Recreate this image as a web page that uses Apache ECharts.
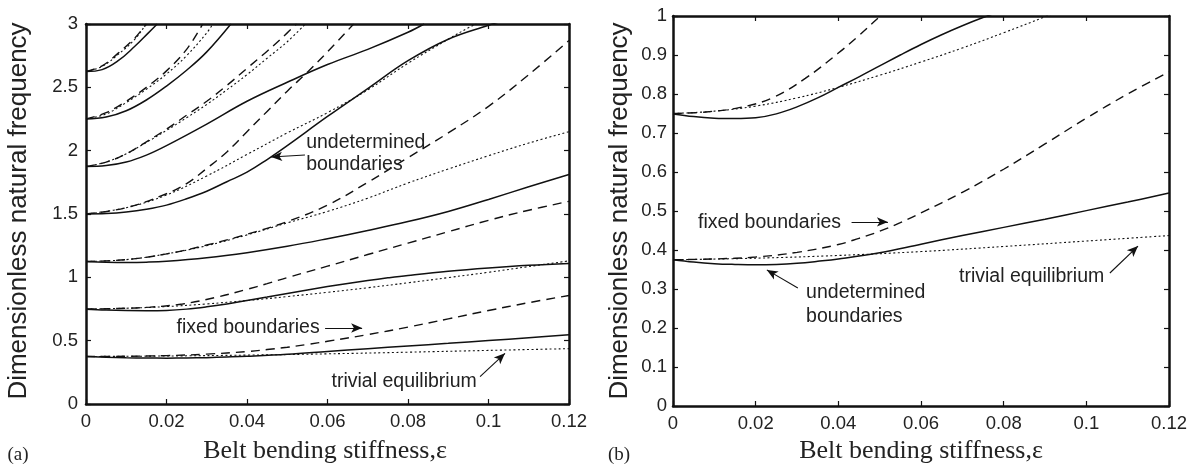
<!DOCTYPE html>
<html><head><meta charset="utf-8">
<script src="https://cdn.jsdelivr.net/npm/echarts@6/dist/echarts.min.js"></script>
<style>html,body{margin:0;padding:0;background:#fff}#c{width:1197px;height:466px}</style>
</head><body><div id="c"></div>
<script>
// ---- values: [epsilon, frequency] ----
const m1Solid  = [[0,0.375],[0.005,0.369],[0.01,0.365],[0.015,0.363],[0.02,0.362],[0.025,0.363],[0.03,0.366],[0.035,0.371],[0.04,0.377],[0.05,0.393],[0.06,0.415],[0.07,0.437],[0.08,0.458],[0.09,0.479],[0.1,0.501],[0.11,0.523],[0.12,0.546]];
const m1Dashed = [[0,0.375],[0.01,0.377],[0.02,0.382],[0.03,0.394],[0.04,0.414],[0.045,0.43],[0.05,0.448],[0.055,0.47],[0.06,0.495],[0.07,0.548],[0.08,0.607],[0.09,0.672],[0.1,0.738],[0.11,0.8],[0.12,0.857]];
const m1Dotted = [[0,0.375],[0.02,0.379],[0.04,0.386],[0.06,0.396],[0.08,0.409],[0.1,0.423],[0.12,0.437]];

const m2Solid  = [[0,0.749],[0.005,0.742],[0.01,0.738],[0.015,0.737],[0.02,0.739],[0.025,0.749],[0.03,0.767],[0.035,0.79],[0.04,0.817],[0.045,0.844],[0.05,0.872],[0.055,0.9],[0.06,0.927],[0.065,0.952],[0.07,0.975],[0.075,0.996],[0.08,1.015],[0.09,1.048],[0.1,1.074],[0.11,1.095],[0.12,1.11]];
const m2Dashed = [[0,0.75],[0.008,0.754],[0.016,0.765],[0.024,0.79],[0.032,0.84],[0.04,0.905],[0.045,0.95],[0.05,0.998],[0.06,1.088],[0.07,1.18],[0.08,1.27],[0.09,1.36],[0.1,1.45],[0.11,1.53],[0.12,1.6]];
const m2Dotted = [[0,0.75],[0.01,0.756],[0.02,0.769],[0.03,0.79],[0.04,0.817],[0.05,0.848],[0.06,0.882],[0.07,0.918],[0.08,0.957],[0.09,0.998],[0.1,1.04],[0.11,1.085],[0.12,1.13]];

const m3Solid  = [[0,1.125],[0.005,1.12],[0.01,1.118],[0.015,1.12],[0.02,1.127],[0.03,1.155],[0.04,1.195],[0.05,1.245],[0.06,1.305],[0.07,1.37],[0.08,1.44],[0.09,1.52],[0.1,1.615],[0.11,1.715],[0.12,1.812]];
const m3Dashed = [[0,1.125],[0.01,1.14],[0.02,1.185],[0.03,1.255],[0.04,1.34],[0.05,1.44],[0.06,1.57],[0.07,1.75],[0.08,1.945],[0.09,2.14],[0.1,2.35],[0.11,2.6],[0.12,2.87]];
const m3Dotted = [[0,1.125],[0.01,1.14],[0.02,1.185],[0.03,1.25],[0.04,1.335],[0.05,1.43],[0.06,1.52],[0.07,1.625],[0.08,1.745],[0.09,1.855],[0.1,1.96],[0.11,2.06],[0.12,2.15]];

const m4Solid  = [[0,1.5],[0.005,1.503],[0.01,1.515],[0.015,1.537],[0.02,1.57],[0.025,1.62],[0.03,1.68],[0.035,1.755],[0.04,1.83],[0.045,1.93],[0.05,2.04],[0.06,2.27],[0.07,2.49],[0.08,2.71],[0.09,2.88],[0.1,2.99],[0.103,3.02]];
const m4Dashed = [[0,1.5],[0.01,1.55],[0.02,1.66],[0.025,1.74],[0.03,1.86],[0.035,1.99],[0.04,2.15],[0.045,2.31],[0.05,2.47],[0.055,2.62],[0.06,2.78],[0.0665,3.0]];
const m4Dotted = [[0,1.5],[0.01,1.55],[0.02,1.65],[0.03,1.8],[0.04,1.97],[0.05,2.14],[0.06,2.3],[0.07,2.48],[0.08,2.69],[0.09,2.88],[0.095,2.97],[0.097,3.0]];

const m5Solid  = [[0,1.875],[0.005,1.882],[0.01,1.91],[0.015,1.965],[0.02,2.04],[0.03,2.21],[0.04,2.39],[0.05,2.54],[0.06,2.68],[0.07,2.8],[0.08,2.935],[0.084,3.0]];
const m5Dashed = [[0,1.875],[0.005,1.91],[0.01,1.975],[0.015,2.07],[0.02,2.17],[0.025,2.28],[0.03,2.39],[0.035,2.515],[0.04,2.65],[0.045,2.785],[0.05,2.93],[0.0523,3.0]];
const m5Dotted = [[0,1.875],[0.005,1.91],[0.01,1.975],[0.015,2.065],[0.02,2.16],[0.025,2.26],[0.03,2.365],[0.035,2.48],[0.04,2.6],[0.045,2.73],[0.05,2.86],[0.0545,3.0]];

const m6Solid  = [[0,2.25],[0.005,2.265],[0.01,2.315],[0.015,2.4],[0.02,2.51],[0.025,2.635],[0.03,2.78],[0.036,3.0]];
const m6Dashed = [[0,2.25],[0.005,2.3],[0.01,2.39],[0.015,2.5],[0.02,2.63],[0.025,2.8],[0.029,3.0]];
const m6Dotted = [[0,2.25],[0.005,2.29],[0.01,2.38],[0.015,2.485],[0.02,2.605],[0.025,2.75],[0.03,2.93],[0.0315,3.0]];

const m7Solid  = [[0,2.625],[0.004,2.64],[0.008,2.71],[0.012,2.82],[0.0155,2.93],[0.0177,3.0]];
const m7Dashed = [[0,2.625],[0.004,2.67],[0.008,2.77],[0.012,2.885],[0.0145,2.98],[0.015,3.0]];
const m7Dotted = [[0,2.625],[0.004,2.665],[0.008,2.76],[0.012,2.875],[0.0148,2.99],[0.0152,3.0]];

const solidA  = [m1Solid, m2Solid, m3Solid, m4Solid, m5Solid, m6Solid, m7Solid];
const dashedA = [m1Dashed, m2Dashed, m3Dashed, m4Dashed, m5Dashed, m6Dashed, m7Dashed];
const dottedA = [m1Dotted, m2Dotted, m3Dotted, m4Dotted, m5Dotted, m6Dotted, m7Dotted];
const solidB  = [m1Solid, m2Solid];
const dashedB = [m1Dashed, m2Dashed];
const dottedB = [m1Dotted, m2Dotted];

// axis ranges
const xRange = {min:0, max:0.12, interval:0.02};
const yRangeA = {min:0, max:3, interval:0.5};
const yRangeB = {min:0, max:1, interval:0.1};

// annotations (data coordinates)
const notesA = [
  {t:'undetermined', p:[0.0547, 2.064]}, {t:'boundaries', p:[0.0547, 1.887]},
  {t:'fixed boundaries', p:[0.0225, 0.60]}, {t:'trivial equilibrium', p:[0.061, 0.174]}
];
const arrowsA = [[[0.0544,1.966],[0.046,1.95]], [[0.0594,0.60],[0.0686,0.60]], [[0.0979,0.216],[0.1041,0.40]]];
const notesB = [
  {t:'fixed boundaries', p:[0.00605, 0.47]},
  {t:'undetermined', p:[0.0322, 0.29]}, {t:'boundaries', p:[0.0322, 0.229]},
  {t:'trivial equilibrium', p:[0.0692, 0.333]}
];
const arrowsB = [[[0.0432,0.472],[0.052,0.472]], [[0.0302,0.3026],[0.0227,0.349]], [[0.1057,0.341],[0.1125,0.41]]];

// ---- chart ----
const INK = '#111';
const TXT = '#222';
const SANS = '"Liberation Sans", Arial, sans-serif';
const SERIF = '"Liberation Serif", "Times New Roman", serif';

const chart = echarts.init(document.getElementById('c'), null, {renderer:'canvas'});

function axis(grid, pos, range, labels, margin) {
  return Object.assign({
    type:'value', gridIndex:grid, position:pos,
    axisLine:{show:true, onZero:false, lineStyle:{color:INK, width:2.5}},
    axisTick:{show:true, inside:true, length:5, lineStyle:{color:INK, width:1.2}},
    axisLabel:{show:labels, margin:margin, fontSize:18.5, fontFamily:SANS, color:TXT},
    splitLine:{show:false}
  }, range);
}
const solidS = {color:INK, width:1.5, type:'solid'};
const dashS  = {color:INK, width:1.4, type:[9,6]};
const dotS   = {color:INK, width:1.1, type:[2,2.5]};

const series = [];
function add(list, style, g) {
  list.forEach(d => series.push({
    type:'line', xAxisIndex:g*2, yAxisIndex:g*2, data:d, showSymbol:false, symbol:'none',
    smooth:0.4, clip:true, silent:true, lineStyle:style, animation:false, z:2
  }));
}
add(dottedA, dotS, 0); add(dashedA, dashS, 0); add(solidA, solidS, 0);
add(dottedB, dotS, 1); add(dashedB, dashS, 1); add(solidB, solidS, 1);

function arrowSeries(g, arrows) {
  return {
    type:'line', xAxisIndex:g*2, yAxisIndex:g*2, data:[], silent:true, animation:false,
    markLine:{silent:true, animation:false, symbol:['none','arrow'], symbolSize:[7,11],
      label:{show:false}, emphasis:{disabled:true},
      lineStyle:{color:INK, width:1.1, type:'solid'},
      data: arrows.map(a => [{coord:a[0]}, {coord:a[1]}])}
  };
}
series.push(arrowSeries(0, arrowsA), arrowSeries(1, arrowsB));

chart.setOption({
  animation:false,
  backgroundColor:'#fff',
  grid:[
    {left:86, top:24, width:483, height:380, containLabel:false},
    {left:673, top:16, width:496, height:390, containLabel:false}
  ],
  xAxis:[
    axis(0,'bottom',xRange,true,8), axis(0,'top',xRange,false,8),
    axis(1,'bottom',xRange,true,8), axis(1,'top',xRange,false,8)
  ],
  yAxis:[
    axis(0,'left',yRangeA,true,8), axis(0,'right',yRangeA,false,8),
    axis(1,'left',yRangeB,true,6), axis(1,'right',yRangeB,false,6)
  ],
  series: series
});

const graphics = [];
function txt(x, y, t, font, size, align, rot) {
  graphics.push({type:'text', x:x, y:y, rotation:rot||0, silent:true, z:10,
    style:{text:t, font: size + 'px ' + font, fill:TXT, textAlign:align||'left', textVerticalAlign:'middle'}});
}
notesA.forEach(n => { const p = chart.convertToPixel({xAxisIndex:0, yAxisIndex:0}, n.p); txt(p[0], p[1], n.t, SANS, 19.5); });
notesB.forEach(n => { const p = chart.convertToPixel({xAxisIndex:2, yAxisIndex:2}, n.p); txt(p[0], p[1], n.t, SANS, 19.5); });
txt(19, 211, 'Dimensionless natural frequency', SANS, 26, 'center', Math.PI/2);
txt(620, 211, 'Dimensionless natural frequency', SANS, 26, 'center', Math.PI/2);
txt(325, 451, 'Belt bending stiffness,\u03b5', SERIF, 26, 'center');
txt(921, 451, 'Belt bending stiffness,\u03b5', SERIF, 26, 'center');
txt(18, 455, '(a)', SERIF, 19, 'center');
txt(619, 455, '(b)', SERIF, 19, 'center');
chart.setOption({graphic: graphics});
</script>
</body></html>
